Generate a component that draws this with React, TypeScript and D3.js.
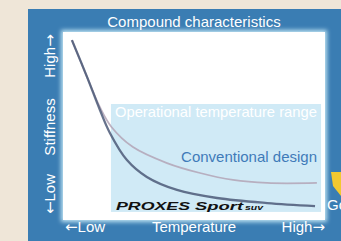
import * as d3 from "d3";

const temperature = [3.4, 9.2, 14.1, 17.9, 24.4, 32, 43.5, 58.8, 77.9, 96.2];
const proxesStiffness = [95.7, 76, 58.5, 46.3, 31.9, 22.9, 16, 11.7, 9, 7.4];
const conventionalTemp = [3.4, 9.2, 14.1, 18.5, 26.7, 39.7, 52.3, 64.9, 77.9, 96.9];
const conventionalStiffness = [95.7, 76, 60, 49.5, 38.8, 30.3, 25, 21.3, 19.7, 19.7];
const yLabels = ["High→", "Stiffness", "←Low"];
const xLabels = ["←Low", "Temperature", "High→"];

const W = 341;
const H = 241;
const plot = { left: 63, right: 325, top: 32, bottom: 220 };
const font = "'Liberation Sans', Arial, sans-serif";

// draw arrow glyphs in DejaVu, which has longer arrows
function withArrows(label: string) {
  return label.split(/([←→])/).filter(Boolean).map((part, i) =>
    part === "←" || part === "→" ? (
      <tspan key={i} fontFamily="'DejaVu Sans'">{part}</tspan>
    ) : (
      <tspan key={i}>{part}</tspan>
    )
  );
}

export default function App() {
  const x = d3.scaleLinear().domain([0, 100]).range([plot.left, plot.right]);
  const y = d3.scaleLinear().domain([0, 100]).range([plot.bottom, plot.top]);
  const line = d3
    .line<[number, number]>()
    .x((d) => x(d[0]))
    .y((d) => y(d[1]))
    .curve(d3.curveCatmullRom.alpha(0.5));

  const proxes = line(temperature.map((t, i) => [t, proxesStiffness[i]]));
  const conventional = line(conventionalTemp.map((t, i) => [t, conventionalStiffness[i]]));

  // operating range band, in data units
  const band = { x0: 18.3, x1: 98.5, y0: 4.3, y1: 61.7 };

  return (
    <svg width={W} height={H} style={{ position: "fixed", left: 0, top: 0 }} fontFamily={font}>
      <defs>
        <filter id="glow" x="-10%" y="-10%" width="120%" height="120%">
          <feGaussianBlur stdDeviation="2" />
        </filter>
        <filter id="soft">
          <feGaussianBlur stdDeviation="0.5" />
        </filter>
      </defs>
      <rect width={W} height={H} fill="#efe6d8" />
      <rect x={28} y={9} width={W - 28} height={H - 9} fill="#3a7db3" />
      <rect x={plot.left - 2} y={plot.top - 2} width={plot.right - plot.left + 4} height={plot.bottom - plot.top + 4} fill="#bfe3f3" filter="url(#glow)" />
      <rect x={plot.left} y={plot.top} width={plot.right - plot.left} height={plot.bottom - plot.top} fill="#ffffff" />
      <rect x={x(band.x0)} y={y(band.y1)} width={x(band.x1) - x(band.x0)} height={y(band.y0) - y(band.y1)} fill="#d0eaf6" />

      <g filter="url(#soft)">
        <path d={conventional ?? ""} fill="none" stroke="#b3a4b6" strokeWidth={1.8} opacity={0.85} />
        <path d={proxes ?? ""} fill="none" stroke="#4c5a78" strokeWidth={2.3} opacity={0.85} />
      </g>

      <text x={194} y={27} textAnchor="middle" fill="#ffffff" fontSize={15}>
        Compound characteristics
      </text>
      <text x={x(band.x0) + 4} y={117} fill="#ffffff" fontSize={15} textLength={202} lengthAdjust="spacingAndGlyphs">
        Operational temperature range
      </text>
      <text x={317} y={162} textAnchor="end" fill="#3f7bb9" fontSize={15}>
        Conventional design
      </text>
      <text x={116} y={210} fill="#111111" fontSize={10} fontWeight="bold" fontStyle="italic" textLength={74} lengthAdjust="spacingAndGlyphs">
        PROXES
      </text>
      <text x={195} y={210} fill="#111111" fontSize={10} fontWeight="bold" fontStyle="italic" textLength={48} lengthAdjust="spacingAndGlyphs">
        Sport
      </text>
      <text x={245} y={210} fill="#111111" fontSize={6.5} fontWeight="bold" fontStyle="italic" textLength={18} lengthAdjust="spacingAndGlyphs">
        suv
      </text>

      {yLabels.map((label, i) => (
        <text
          key={label}
          transform={`translate(55, ${[56, 127, 194][i]}) rotate(-90)`}
          textAnchor="middle"
          fill="#ffffff"
          fontSize={15}
        >
          {withArrows(label)}
        </text>
      ))}
      {xLabels.map((label, i) => (
        <text
          key={label}
          x={[65, 194, 325][i]}
          y={232}
          textAnchor={["start", "middle", "end"][i]}
          fill="#ffffff"
          fontSize={15}
        >
          {withArrows(label)}
        </text>
      ))}

      <path d="M331,172 L341,172 L341,196 L333,186 Z" fill="#f2c830" />
      <text x={327} y={210} fill="#ffffff" fontSize={15}>
        Go
      </text>
    </svg>
  );
}
